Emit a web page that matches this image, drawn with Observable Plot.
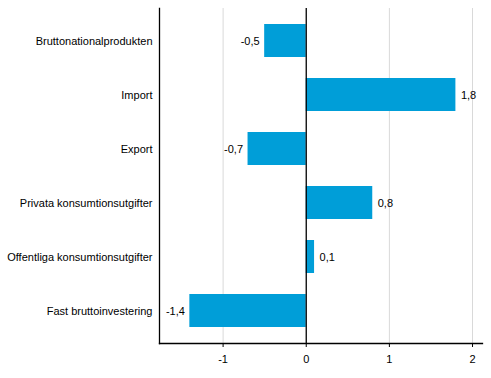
<!DOCTYPE html>
<html>
<head>
<meta charset="utf-8">
<script src="https://cdn.jsdelivr.net/npm/d3@7"></script>
<script src="https://cdn.jsdelivr.net/npm/@observablehq/plot@0.6"></script>
<style>
  html, body { margin: 0; padding: 0; background: #fff; }
  svg { display: block; }
</style>
</head>
<body>
<div id="chart"></div>
<script>
const categories = [
  "Bruttonationalprodukten",
  "Import",
  "Export",
  "Privata konsumtionsutgifter",
  "Offentliga konsumtionsutgifter",
  "Fast bruttoinvestering"
];
const values = [-0.5, 1.8, -0.7, 0.8, 0.1, -1.4];
const xTicks = [-1, 0, 1, 2];

const data = categories.map((c, i) => ({ category: c, value: values[i] }));
const fmt = v => String(v).replace(".", ",");

const chart = Plot.plot({
  width: 491,
  height: 378,
  marginLeft: 159,
  marginRight: 9,
  marginTop: 8,
  marginBottom: 35,
  style: { fontFamily: "Liberation Sans, Arial, sans-serif", fontSize: "11px", color: "#000", background: "#fff" },
  x: { domain: [-1.765, 2.12], ticks: xTicks, label: null },
  y: { domain: categories, paddingInner: 0.39, paddingOuter: 0.285, label: null },
  marks: [
    Plot.gridX({ ticks: xTicks.filter(d => d !== 0), stroke: "#d9d9d9", strokeOpacity: 1, strokeWidth: 1 }),
    Plot.barX(data, { y: "category", x: "value", fill: "#009ed8" }),
    Plot.text(data.filter(d => d.value < 0), {
      y: "category", x: "value",
      text: d => fmt(d.value),
      textAnchor: "end", dx: -5, lineAnchor: "middle",
      fill: "#000", fontSize: 11
    }),
    Plot.text(data.filter(d => d.value >= 0), {
      y: "category", x: "value",
      text: d => fmt(d.value),
      textAnchor: "start", dx: 5, lineAnchor: "middle",
      fill: "#000", fontSize: 11
    }),
    Plot.ruleX([0], { stroke: "#000", strokeWidth: 1.3 }),
    Plot.axisX({ ticks: xTicks, tickFormat: d => fmt(d), tickSize: 4, tickPadding: 8, stroke: "#000", fill: "#000", fontSize: 11, label: null }),
    Plot.axisY({ tickSize: 0, tickPadding: 7, fill: "#000", fontSize: 11, label: null }),
    Plot.frame({ anchor: "left", stroke: "#000", strokeWidth: 1.3 }),
    Plot.frame({ anchor: "bottom", stroke: "#000", strokeWidth: 1.3 })
  ]
});
document.getElementById("chart").appendChild(chart);
</script>
</body>
</html>
